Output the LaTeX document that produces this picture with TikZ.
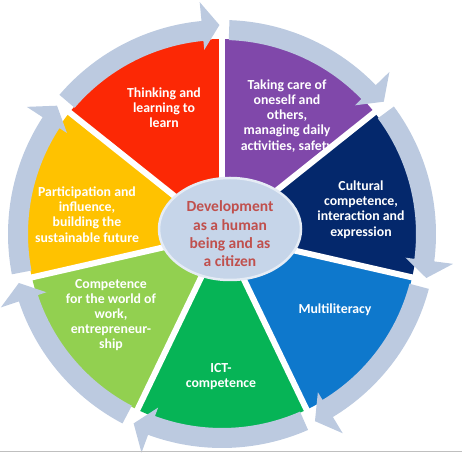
\documentclass[tikz,border=0pt]{standalone}
\usepackage{fontspec}
\setmainfont{Carlito}
\usetikzlibrary{shapes.geometric}
\definecolor{wheelred}{RGB}{252,40,5}
\definecolor{wheelpurple}{RGB}{128,72,170}
\definecolor{wheelnavy}{RGB}{4,40,108}
\definecolor{wheelblue}{RGB}{14,120,204}
\definecolor{wheelgreen}{RGB}{6,180,86}
\definecolor{wheellime}{RGB}{146,208,80}
\definecolor{wheelyellow}{RGB}{255,194,0}
\definecolor{ringgray}{RGB}{188,202,224}
\definecolor{hubfill}{RGB}{198,213,233}
\definecolor{hubred}{RGB}{192,80,77}

% one clockwise arrow of the outer ring: #1 start angle, #2 end angle
\newcommand{\ringarrow}[2]{%
  \fill[ringgray] ({#1-2}:194) arc[start angle={#1-2}, end angle={#2+5.5}, radius=194]
    -- ({#2+5.5}:185) -- ({#2+0.7}:209) -- ({#2+5.5}:233) -- ({#2+5.5}:214)
    arc[start angle={#2+5.5}, end angle={#1-2}, radius=214] -- cycle;}

\begin{document}
\begin{tikzpicture}[x=1pt, y=1pt,
  wedgetext/.style={text=white, font=\fontsize{13.8}{15.2}\selectfont\bfseries, align=center, inner sep=0pt},
  hubtext/.style={text=hubred, font=\fontsize{15.5}{18.3}\selectfont\bfseries, align=center, inner sep=0pt},
  gapline/.style={white, line width=6pt}]
  \useasboundingbox (0,0) rectangle (462,454);

  % Segments
  \begin{scope}[shift={(222,220)}]
    \fill[wheelred] (0,0) -- (90:195) arc[start angle=90, end angle=141.43, radius=195] -- cycle;
    \fill[wheelyellow] (0,0) -- (141.43:195) arc[start angle=141.43, end angle=192.86, radius=195] -- cycle;
    \fill[wheellime] (0,0) -- (192.86:195) arc[start angle=192.86, end angle=244.29, radius=195] -- cycle;
    \fill[wheelgreen] (0,0) -- (244.29:195) arc[start angle=244.29, end angle=295.71, radius=195] -- cycle;
    \fill[wheelblue] (0,0) -- (295.71:195) arc[start angle=295.71, end angle=347.14, radius=195] -- cycle;
    \fill[wheelnavy] (0,0) -- (-12.86:195) arc[start angle=-12.86, end angle=38.57, radius=195] -- cycle;
    \fill[wheelpurple] (0,0) -- (38.57:195) arc[start angle=38.57, end angle=90, radius=195] -- cycle;
  \end{scope}

  % Labels
  \node[wedgetext] (thinking) at (164,346) {Thinking and\\learning to\\learn};
  \node[wedgetext] (takingcare) at (287,338) {Taking care of\\oneself and\\others,\\managing daily\\activities, safety};
  \node[wedgetext] (cultural) at (361,244.5) {Cultural\\competence,\\interaction and\\expression};
  \node[wedgetext] (multiliteracy) at (335,144) {Multiliteracy};
  \node[wedgetext] (ict) at (221,77.5) {ICT-\\competence};
  \node[wedgetext] (worklife) at (111,139) {Competence\\for the world of\\work,\\entrepreneur-\\ship};
  \node[wedgetext] (participation) at (87,239.5) {Participation and\\influence,\\building the\\sustainable future};

  % Gaps and ring
  \begin{scope}[shift={(222,220)}]
    \draw[gapline] (0,0) -- (90:197);
    \draw[gapline] (0,0) -- (141.43:197);
    \draw[gapline] (0,0) -- (192.86:197);
    \draw[gapline] (0,0) -- (244.29:197);
    \draw[gapline] (0,0) -- (295.71:197);
    \draw[gapline] (0,0) -- (347.14:197);
    \draw[gapline] (0,0) -- (38.57:197);
    \ringarrow{141.43}{90}
    \ringarrow{90}{38.57}
    \ringarrow{38.57}{-12.86}
    \ringarrow{-12.86}{-64.29}
    \ringarrow{-64.29}{-115.71}
    \ringarrow{-115.71}{-167.14}
    \ringarrow{-167.14}{-218.57}
  \end{scope}

  % Hub
  \node[ellipse, draw=white!55!hubfill, line width=2.5pt, fill=hubfill, minimum width=142pt, minimum height=102pt] (hub) at (230,225) {};
  \node[hubtext] (hublabel) at ([yshift=-5pt]hub.center) {Development\\as a human\\being and as\\a citizen};

  \draw[black!25, line width=1.5pt] (0,2.5) -- (462,2.5);
\end{tikzpicture}
\end{document}
